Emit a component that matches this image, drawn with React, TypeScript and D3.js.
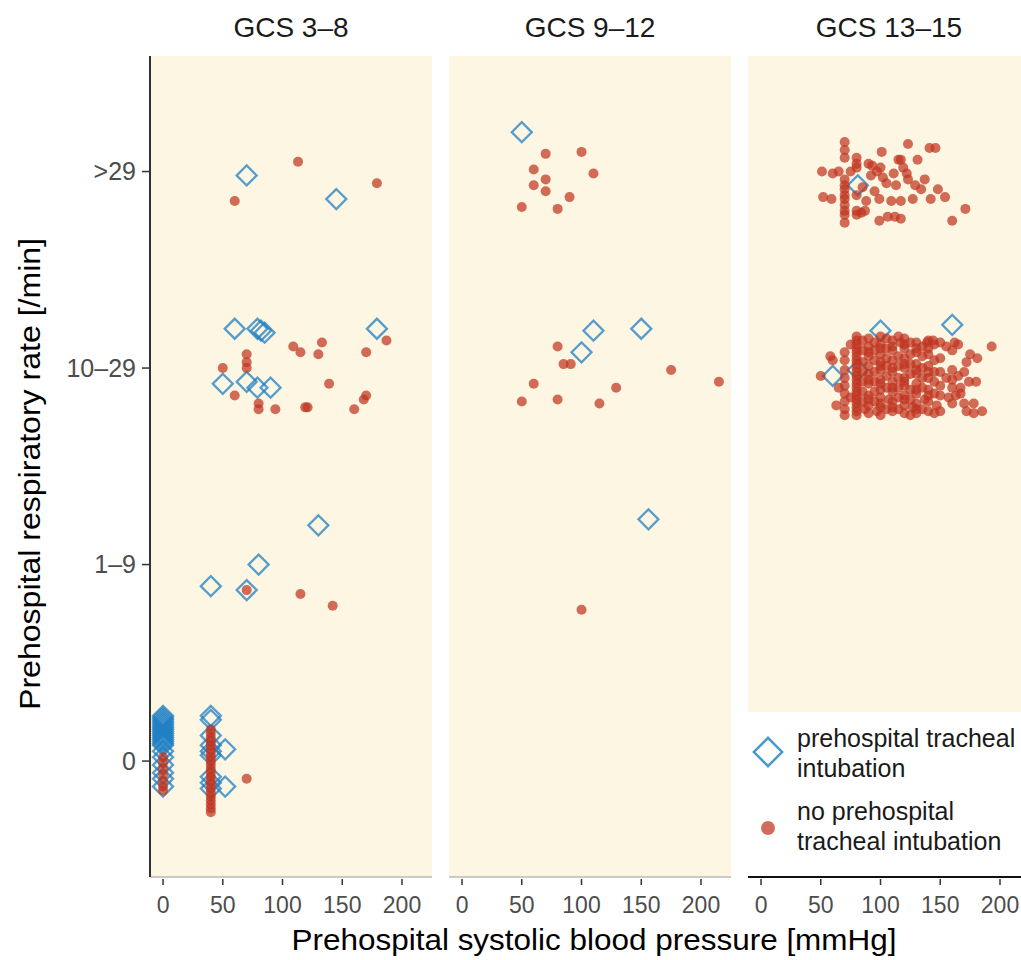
import React from 'react';
import * as d3 from 'd3';

// facets and axis labels
const panels = ['GCS 3–8', 'GCS 9–12', 'GCS 13–15'];
const rrLevels = ['0', '1–9', '10–29', '>29'];
const sbpTicks = [0, 50, 100, 150, 200];

// [systolic BP, respiratory category + jitter]  (0 = "0", 1 = "1–9", 2 = "10–29", 3 = ">29")
const gcs38Tube = [
  [70, 2.98], [145, 2.86],
  [60, 2.2], [79, 2.2], [82, 2.19], [85, 2.18], [179, 2.2], [50, 1.92], [70, 1.93], [79, 1.9], [90, 1.9],
  [130, 1.2], [80, 1.0], [40, 0.89], [70, 0.87],
  [0, 0.23], [0, 0.22], [0, 0.21], [0, 0.2], [0, 0.19], [0, 0.18], [0, 0.17], [0, 0.16], [0, 0.15], [0, 0.14],
  [0, 0.13], [0, 0.12], [0, 0.11], [0, 0.1], [0, 0.09], [0, 0.08],
  [0, 0.05], [0, 0.02], [0, -0.02], [0, -0.06], [0, -0.09], [0, -0.13],
  [40, 0.23], [40, 0.21], [40, 0.13], [40, 0.08], [40, 0.05], [40, 0.03], [40, -0.08], [40, -0.11], [40, -0.14],
  [52, 0.06], [52, -0.13],
];
const gcs38NoTube = [
  [113, 3.05], [179, 2.94], [60, 2.85],
  [187, 2.14], [133, 2.13], [109, 2.11], [115, 2.08], [130, 2.07], [170, 2.08], [70, 2.07], [70, 2.03], [70, 2.0],
  [50, 2.0], [139, 1.92], [60, 1.86], [80, 1.82], [80, 1.79], [94, 1.79], [119, 1.8], [121, 1.8], [160, 1.79],
  [168, 1.84], [170, 1.86],
  [70, 0.87], [115, 0.85], [142, 0.79],
  [0, 0.02], [0, -0.01], [0, -0.04], [0, -0.07], [0, -0.1], [0, -0.13], [0, -0.15],
  [40, 0.16], [40, 0.14], [40, 0.12], [40, 0.1], [40, 0.08], [40, 0.06], [40, 0.04], [40, 0.02], [40, 0.0],
  [40, -0.02], [40, -0.04], [40, -0.06], [40, -0.08], [40, -0.1], [40, -0.12], [40, -0.14], [40, -0.16],
  [40, -0.18], [40, -0.2], [40, -0.22], [40, -0.24], [40, -0.26],
  [70, -0.09],
];
const gcs912Tube = [[50, 3.2], [110, 2.19], [150, 2.2], [100, 2.08], [156, 1.23]];
const gcs912NoTube = [
  [70, 3.09], [100, 3.1], [60, 3.01], [110, 2.99], [70, 2.96], [60, 2.93], [70, 2.9], [90, 2.87], [50, 2.82], [80, 2.81],
  [80, 2.11], [85, 2.02], [91, 2.02], [175, 1.99], [215, 1.93], [60, 1.92], [129, 1.9], [50, 1.83], [80, 1.84], [115, 1.82],
  [100, 0.77],
];
const gcs1315Tube = [[81, 2.93], [100, 2.19], [160, 2.22], [60, 1.96], [81, 1.99]];
const gcs1315NoTube = [
  // >29
  [123, 3.14], [141, 3.12], [146, 3.12], [101, 3.1], [115, 3.06], [117, 3.06], [131, 3.06], [51, 3.0], [60, 2.99],
  [90, 3.04], [93, 3.03], [97, 3.0], [102, 2.97], [111, 2.99], [105, 2.94], [122, 2.99], [123, 2.96], [129, 2.93],
  [134, 2.91], [148, 2.91], [154, 2.87], [142, 2.86], [127, 2.86], [117, 2.85], [109, 2.85], [99, 2.86], [88, 2.85],
  [52, 2.87], [59, 2.86], [171, 2.81], [160, 2.75], [99, 2.75], [106, 2.77], [112, 2.77], [117, 2.76], [84, 2.79], [87, 2.8],
  [70, 3.15], [70, 3.11], [70, 3.07], [70, 2.96], [70, 2.93], [70, 2.91], [70, 2.88], [70, 2.86], [70, 2.83], [70, 2.8],
  [70, 2.78], [70, 2.74],
  [80, 3.07], [80, 3.04], [80, 3.02], [80, 2.88], [80, 2.8], [80, 2.78],
  [75, 3.0], [85, 2.92], [95, 2.9], [113, 2.93], [119, 3.02], [137, 2.96], [100, 3.02], [92, 2.98], [65, 3.0],
  // 10–29
  [80, 2.16], [80, 2.14], [80, 2.12], [80, 2.1], [80, 2.08], [80, 2.06], [80, 2.04], [80, 2.02], [80, 2.0], [80, 1.98],
  [80, 1.96], [80, 1.94], [80, 1.92], [80, 1.9], [80, 1.88], [80, 1.86], [80, 1.84], [80, 1.82], [80, 1.8], [80, 1.78], [80, 1.76],
  [70, 2.08], [70, 2.04], [70, 1.99], [70, 1.95], [70, 1.91], [70, 1.87], [70, 1.83], [70, 1.79], [70, 1.76],
  [90, 2.15], [90, 2.11], [90, 2.06], [90, 2.01], [90, 1.97], [90, 1.92], [90, 1.86], [90, 1.81], [90, 1.77],
  [100, 2.16], [100, 2.12], [100, 2.07], [100, 2.03], [100, 1.99], [100, 1.94], [100, 1.89], [100, 1.85], [100, 1.8], [100, 1.76],
  [110, 2.14], [110, 2.09], [110, 2.04], [110, 1.98], [110, 1.93], [110, 1.88], [110, 1.83], [110, 1.78],
  [120, 2.15], [120, 2.1], [120, 2.05], [120, 2.0], [120, 1.95], [120, 1.91], [120, 1.86], [120, 1.81], [120, 1.77],
  [130, 2.13], [130, 2.08], [130, 2.02], [130, 1.97], [130, 1.92], [130, 1.87], [130, 1.82], [130, 1.77],
  [140, 2.14], [140, 2.07], [140, 2.01], [140, 1.95], [140, 1.89], [140, 1.83], [140, 1.78],
  [150, 2.13], [150, 2.05], [150, 1.98], [150, 1.91], [150, 1.86], [150, 1.78],
  [160, 2.09], [160, 1.99], [160, 1.9], [160, 1.82],
  [50, 1.96], [58, 2.06], [60, 2.04], [63, 1.81], [65, 1.9], [75, 2.12], [75, 1.85], [85, 2.09], [85, 1.93], [87, 1.79],
  [95, 2.04], [95, 1.88], [97, 1.78], [105, 2.1], [105, 1.96], [107, 1.84], [115, 2.01], [115, 1.79], [117, 2.13],
  [125, 2.07], [125, 1.89], [127, 1.8], [135, 2.11], [135, 1.95], [137, 1.84], [145, 2.04], [145, 1.93], [147, 1.81],
  [155, 2.11], [155, 1.95], [157, 1.85], [162, 2.13], [165, 1.96], [167, 1.9], [167, 1.87], [172, 2.03], [174, 1.93],
  [178, 1.82], [181, 2.05], [185, 1.78], [178, 1.77], [172, 1.78], [193, 2.11], [139, 2.13], [144, 2.14],
  [85, 2.14], [85, 2.03], [85, 1.98], [85, 1.88], [85, 1.83], [95, 2.13], [95, 2.09], [95, 1.98], [95, 1.93], [95, 1.83],
  [105, 2.15], [105, 2.05], [105, 2.01], [105, 1.9], [105, 1.79], [115, 2.16], [115, 2.06], [115, 1.95], [115, 1.9],
  [115, 1.85], [125, 2.13], [125, 2.02], [125, 1.97], [125, 1.84], [125, 1.76], [135, 2.06], [135, 2.0], [135, 1.9],
  [135, 1.79], [145, 2.12], [145, 1.98], [145, 1.87], [145, 1.77],
  [100, 2.1], [100, 2.01], [100, 1.92], [100, 1.82], [110, 2.11], [110, 2.0], [110, 1.9], [110, 1.8],
  [120, 2.12], [120, 2.02], [120, 1.93], [120, 1.84], [130, 2.1], [130, 1.99], [130, 1.89], [130, 1.79],
  [90, 2.08], [90, 1.94], [90, 1.84], [140, 2.1], [140, 1.98], [140, 1.86],
  [165, 2.12], [170, 1.98], [175, 2.07], [160, 1.94], [163, 1.86], [170, 1.82], [180, 1.93],
];

const tubeData = [gcs38Tube, gcs912Tube, gcs1315Tube];
const noTubeData = [gcs38NoTube, gcs912NoTube, gcs1315NoTube];

const W = 1021;
const H = 960;
const panelLeft = [150, 449, 748];
const panelW = 282;
const top = 56;
const bottom = 877;
const bg = '#fdf6e3';
const blue = '#1f7fc4';
const red = '#bf3420';
const font = '"Liberation Sans", Arial, Helvetica, sans-serif';

const x = d3.scaleLinear().domain([-10.9, 225.1]).range([0, panelW]);
const y = d3.scaleLinear().domain([-0.59, 3.588]).range([bottom, top]);
const diamond = d3.symbol().type(d3.symbolSquare).size(200)();
const legendDiamond = d3.symbol().type(d3.symbolSquare).size(400)();

const App = () => {
  return (
    <svg width={W} height={H} style={{ position: 'absolute', left: 0, top: 0, background: '#fff' }}
      fontFamily={font}>
      <defs>
        <clipPath id="panelClip">
          <rect x={0} y={top} width={panelW} height={bottom - top} />
        </clipPath>
      </defs>
      {panels.map((p, i) => (
        <g key={p} transform={`translate(${panelLeft[i]},0)`}>
          <rect x={0} y={top} width={panelW} height={bottom - top} fill={bg} />
          <text x={panelW / 2} y={37} textAnchor="middle" fontSize={28} fill="#1a1a1a">{p}</text>
          <g clipPath="url(#panelClip)">
            {tubeData[i].map((d, j) => (
              <path key={'t' + j} d={diamond}
                transform={`translate(${x(d[0])},${y(d[1])}) rotate(45)`}
                fill="none" stroke={blue} strokeWidth={2.3} strokeOpacity={0.75} />
            ))}
            {noTubeData[i].map((d, j) => (
              <circle key={'n' + j} cx={x(d[0])} cy={y(d[1])} r={5} fill={red} fillOpacity={0.72} />
            ))}
          </g>
          {/* x axis */}
          {sbpTicks.map(t => (
            <g key={t} transform={`translate(${x(t)},${bottom})`}>
              <line y1={2} y2={8} stroke="#333" strokeWidth={1.5} />
              <text y={36} textAnchor="middle" fontSize={23} fill="#4d4d4d">{t}</text>
            </g>
          ))}
        </g>
      ))}

      {/* legend box inside the last panel */}
      <g transform={`translate(${panelLeft[2]},0)`}>
        <rect x={0} y={712} width={W - panelLeft[2]} height={bottom - 712} fill="#fff" />
        <path d={legendDiamond} transform="translate(20,752) rotate(45)" fill="none" stroke={blue}
          strokeWidth={2.5} strokeOpacity={0.8} />
        <text x={49} y={747} fontSize={25} fill="#1a1a1a">prehospital tracheal</text>
        <text x={49} y={777} fontSize={25} fill="#1a1a1a">intubation</text>
        <circle cx={20} cy={828} r={7} fill={red} fillOpacity={0.72} />
        <text x={49} y={820} fontSize={25} fill="#1a1a1a">no prehospital</text>
        <text x={49} y={850} fontSize={25} fill="#1a1a1a">tracheal intubation</text>
      </g>

      {/* x axis lines */}
      <line x1={panelLeft[0]} x2={panelLeft[0] + panelW} y1={bottom} y2={bottom} stroke="#999" strokeWidth={1} />
      <line x1={panelLeft[1]} x2={panelLeft[1] + panelW} y1={bottom} y2={bottom} stroke="#999" strokeWidth={1} />
      <line x1={panelLeft[2]} x2={W} y1={bottom} y2={bottom} stroke="#111" strokeWidth={2} />

      {/* y axis */}
      <line x1={panelLeft[0]} x2={panelLeft[0]} y1={top} y2={bottom} stroke="#333" strokeWidth={2} />
      {rrLevels.map((l, i) => (
        <g key={l} transform={`translate(${panelLeft[0]},${y(i)})`}>
          <line x1={-8} x2={-1} stroke="#333" strokeWidth={1.5} />
          <text x={-14} dy="0.35em" textAnchor="end" fontSize={25} fill="#4d4d4d">{l}</text>
        </g>
      ))}

      <text x={594} y={950} textAnchor="middle" fontSize={30} fill="#000"
        textLength={605} lengthAdjust="spacingAndGlyphs">
        Prehospital systolic blood pressure [mmHg]
      </text>
      <text transform="translate(40,474) rotate(-90)" textAnchor="middle" fontSize={30} fill="#000"
        textLength={472} lengthAdjust="spacingAndGlyphs">
        Prehospital respiratory rate [/min]
      </text>
    </svg>
  );
};

export default App;
